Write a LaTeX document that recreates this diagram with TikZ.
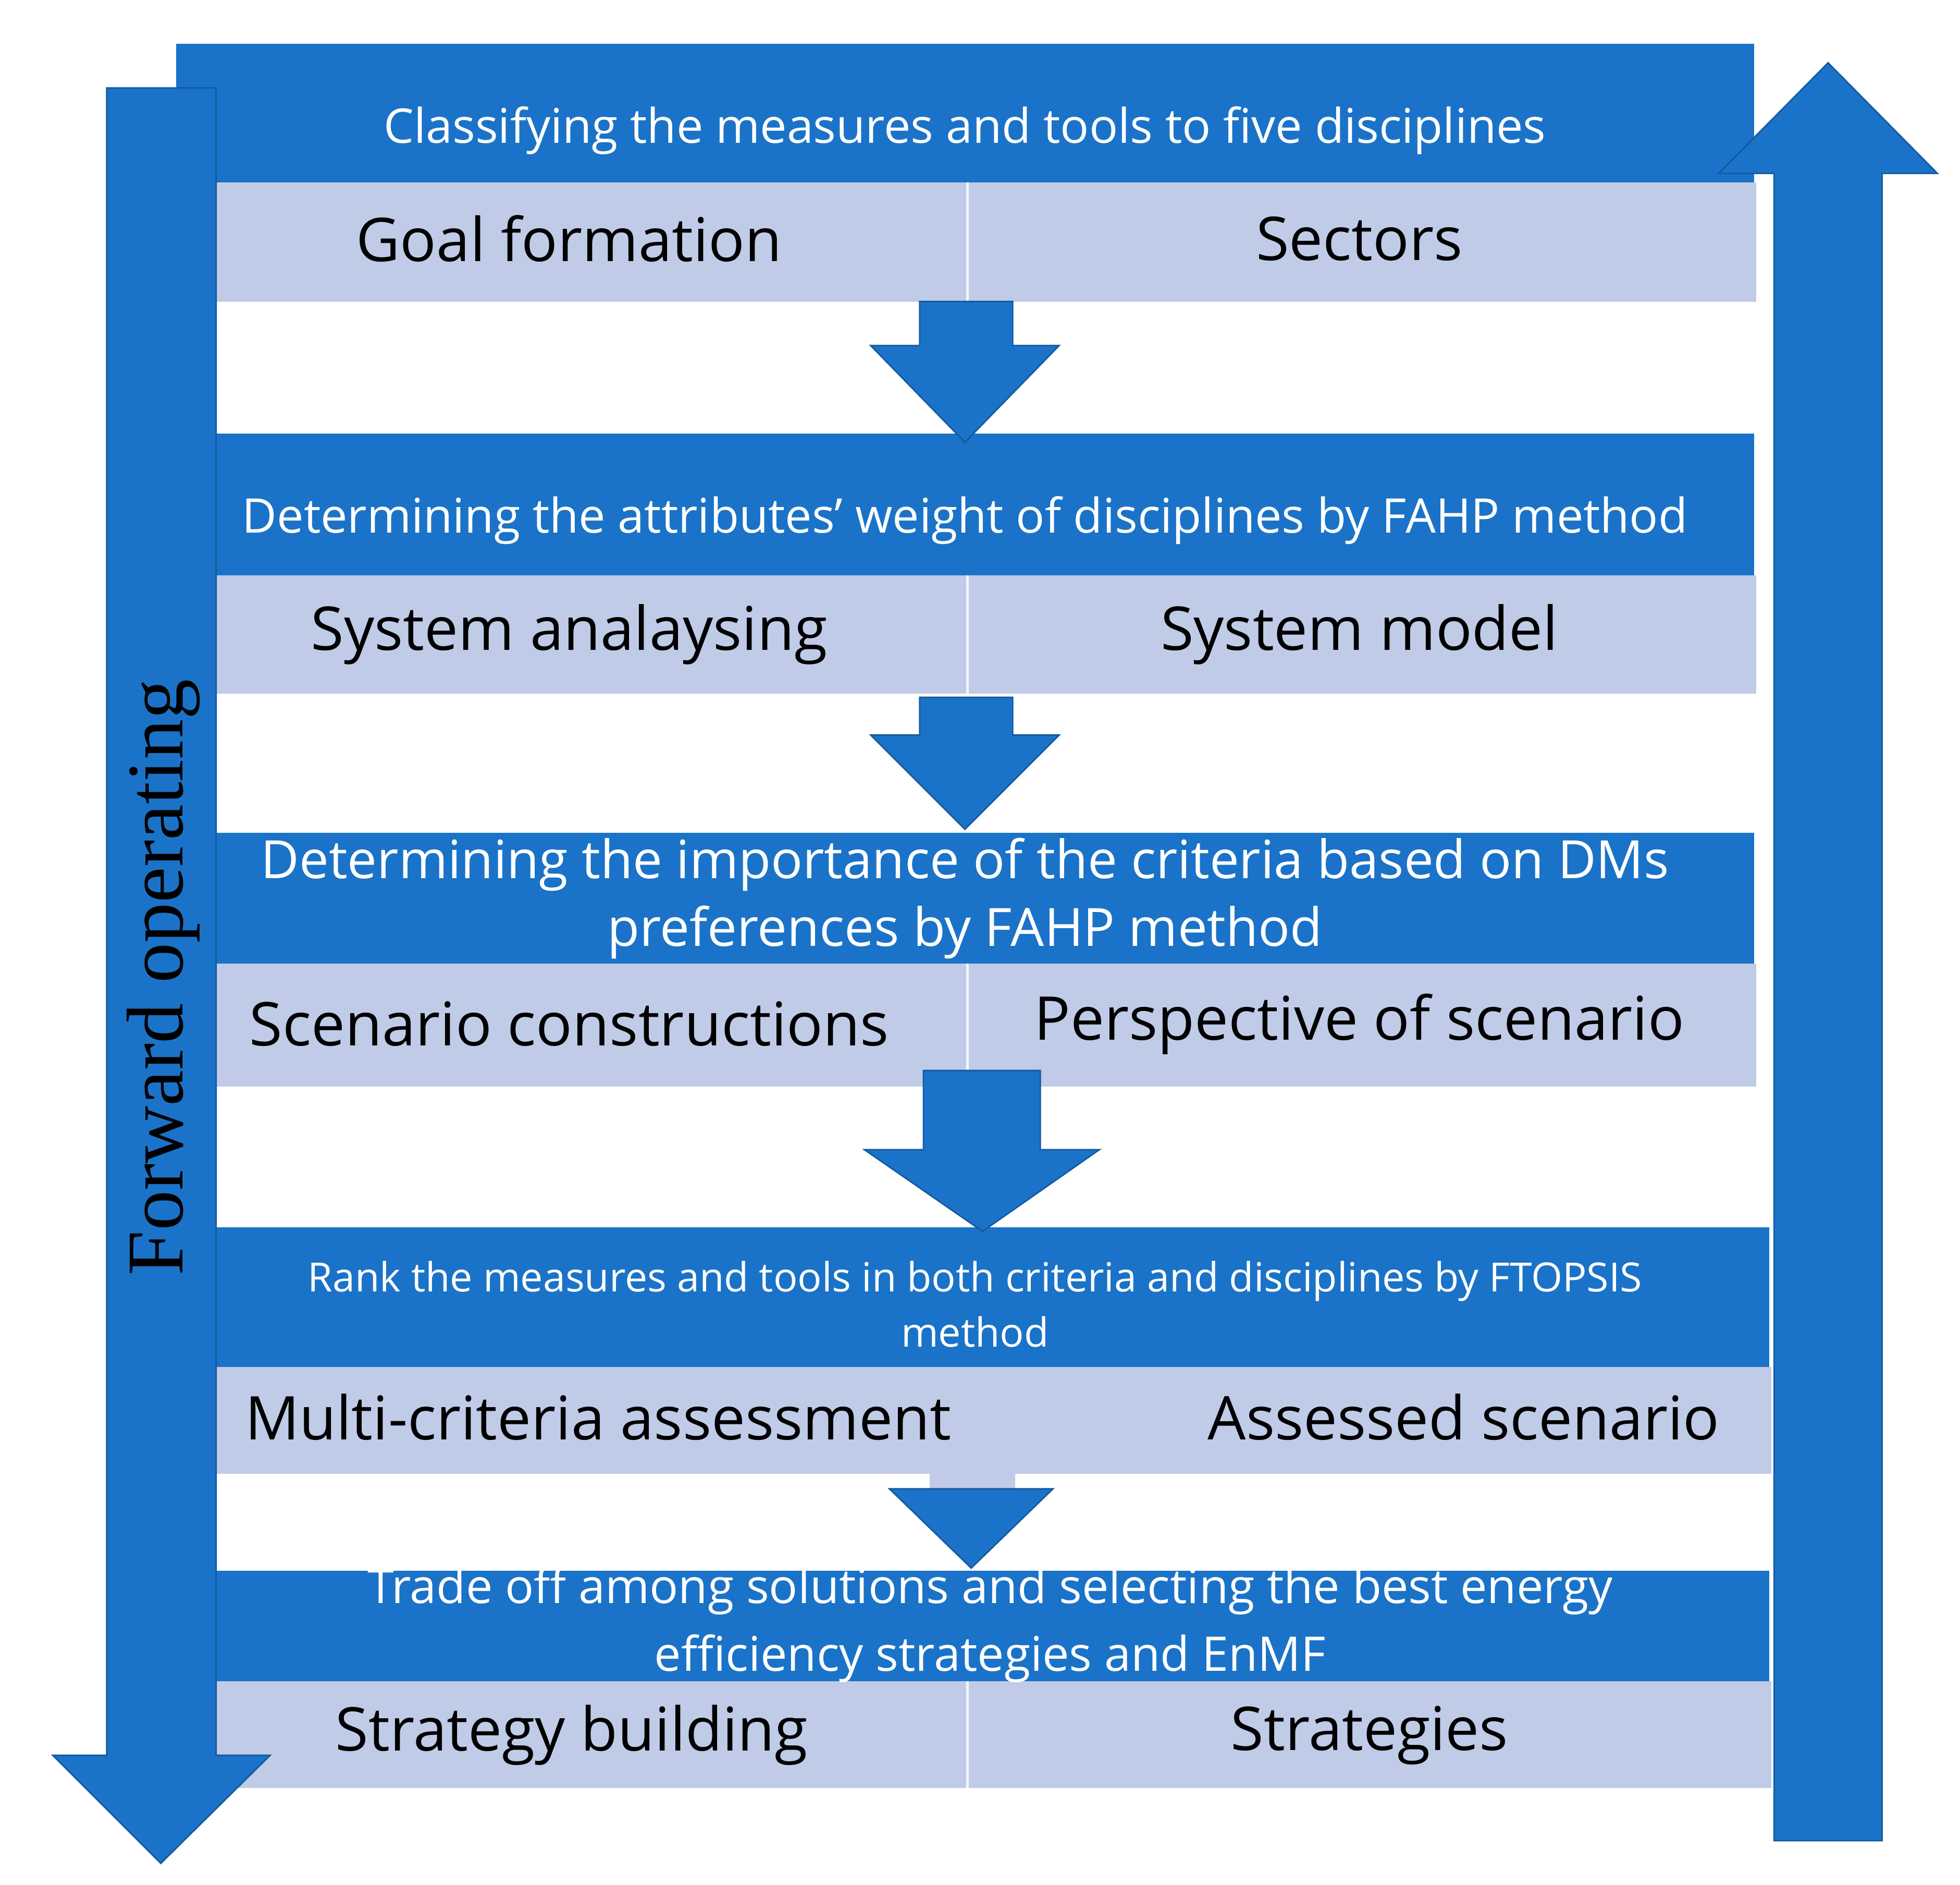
\documentclass[tikz,border=0pt]{standalone}
\usepackage{fontspec}
\setmainfont{Open Sans}
\newfontfamily\serifed{Liberation Serif}
\definecolor{bl}{RGB}{26,115,200}
\definecolor{bo}{RGB}{20,90,160}
\definecolor{lt}{RGB}{192,203,232}
\begin{document}
\begin{tikzpicture}[x=0.5pt,y=-0.5pt,
 hdr/.style={fill=bl,draw=none},
 row/.style={fill=lt,draw=none},
 arr/.style={fill=bl,draw=bo,line width=0.6pt},
 wt/.style={text=white,align=center,font=\fontsize{19}{27}\selectfont},
 bt/.style={text=black,font=\fontsize{24}{28}\selectfont}]
\useasboundingbox (0,0) rectangle (1560,1500);
\fill[white] (0,0) rectangle (1560,1500);
% headers and rows
\fill[hdr] (140,35) rectangle (1396,145);
\fill[row] (172,145) rectangle (1398,240);
\fill[hdr] (172,345) rectangle (1396,458);
\fill[row] (172,458) rectangle (1398,552);
\fill[hdr] (172,663) rectangle (1396,767);
\fill[row] (172,767) rectangle (1398,865);
\fill[hdr] (172,977) rectangle (1408,1088);
\fill[row] (172,1088) rectangle (1410,1173);
\fill[hdr] (172,1250) rectangle (1408,1338);
\fill[row] (172,1338) rectangle (1410,1423);
\foreach \a/\b in {145/240,458/552,767/865,1338/1423}
  \draw[white!80!lt,line width=1pt] (770,\a) -- (770,\b);
% down arrows
\draw[arr] (732,240) -- (806,240) -- (806,275) -- (843,275) -- (768,352) -- (693,275) -- (732,275) -- cycle;
\draw[arr] (732,555) -- (806,555) -- (806,585) -- (843,585) -- (768,660) -- (693,585) -- (732,585) -- cycle;
\draw[arr] (735,852) -- (828,852) -- (828,915) -- (875,915) -- (782,980) -- (688,915) -- (735,915) -- cycle;
\draw[arr,fill=lt,draw=none] (740,1155) rectangle (808,1185);
\draw[arr] (740,1185) -- (808,1185) -- (838,1185) -- (773,1248) -- (708,1185) -- cycle;
% big arrows
\draw[arr] (85,70) -- (172,70) -- (172,1397) -- (215,1397) -- (128,1483) -- (42,1397) -- (85,1397) -- cycle;
\draw[arr] (1412,1465) -- (1498,1465) -- (1498,138) -- (1542,138) -- (1455,50) -- (1368,138) -- (1412,138) -- cycle;
% texts
\node[wt] (h1) at (768,104) {Classifying the measures and tools to five disciplines};
\node[bt] (g) at (453,190) {Goal formation};
\node[bt] (s) at (1082,190) {Sectors};
\node[wt] (h2) at (768,414) {Determining the attributes' weight of disciplines by FAHP method};
\node[bt] (sa) at (453,505) {System analaysing};
\node[bt] (sm) at (1082,505) {System model};
\node[wt,font=\fontsize{21}{27}\selectfont] (h3) at (768,715) {Determining the importance of the criteria based on DMs\\preferences by FAHP method};
\node[bt] (sc) at (453,815) {Scenario constructions};
\node[bt] (ps) at (1082,815) {Perspective of scenario};
\node[wt,font=\fontsize{16}{22}\selectfont] (h4) at (776,1038) {Rank the measures and tools in both criteria and disciplines by FTOPSIS\\method};
\node[bt] (mc) at (476,1128) {Multi-criteria assessment};
\node[bt] (as) at (1165,1128) {Assessed scenario};
\node[wt] (h5) at (788,1293) {Trade off among solutions and selecting the best energy\\efficiency strategies and EnMF};
\node[bt] (sb) at (455,1381) {Strategy building};
\node[bt] (st) at (1090,1381) {Strategies};
\node[rotate=90,font=\serifed\fontsize{32}{36}\selectfont] (fo) at (130,778) {Forward operating};
\end{tikzpicture}
\end{document}
